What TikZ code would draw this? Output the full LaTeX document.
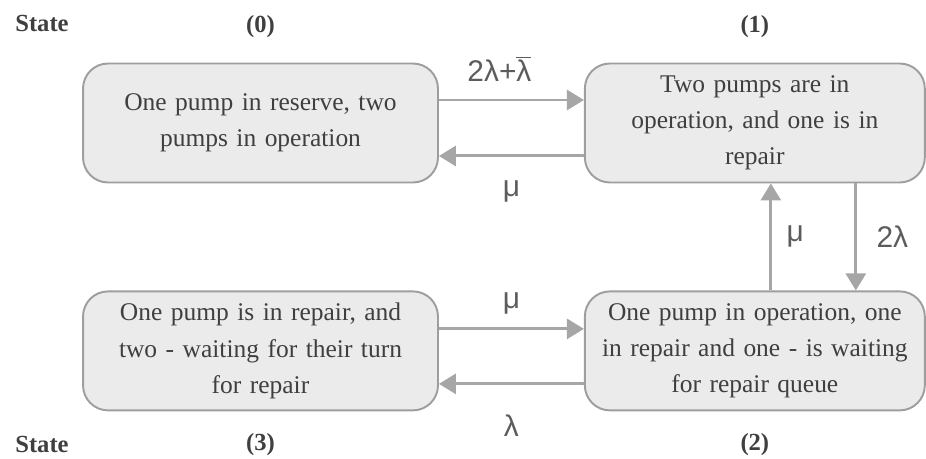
\documentclass[tikz,border=0pt]{standalone}
\usepackage{fontspec}
\setmainfont{Liberation Serif}
\newfontfamily\lblfont{Liberation Sans}
\usetikzlibrary{arrows.meta,positioning}

\definecolor{boxfill}{HTML}{EBEBEB}
\definecolor{boxline}{HTML}{9E9E9E}
\definecolor{arrline}{HTML}{A6A6A6}
\definecolor{txt}{HTML}{3F3F3F}

\begin{document}
\begin{tikzpicture}[
  x=0.02cm, y=-0.02cm,
  statebox/.style={draw=boxline, line width=1.1pt, fill=boxfill, rounded corners=0.5cm,
    align=center, text=txt, font=\fontsize{14.5}{20.5}\selectfont,
    minimum height=2.38cm, inner sep=2pt},
  arr/.style={draw=arrline, line width=1.7pt,
    -{Triangle[length=0.34cm, width=0.4cm]}},
  lbl/.style={font=\lblfont\fontsize{17}{20}\selectfont, text=txt!85, inner sep=1pt},
  num/.style={font=\bfseries\fontsize{14}{16}\selectfont, text=txt, inner sep=1pt}
]
  \useasboundingbox (0,0) rectangle (926,459);

  \node[statebox, minimum width=7.1cm, text width=6.3cm] (s0) at (260.5,123)
    {One pump in reserve, two\\pumps in operation};
  \node[statebox, minimum width=6.8cm, text width=6.2cm, right=2.9cm of s0] (s1)
    {Two pumps are in\\operation, and one is in\\repair};
  \node[statebox, minimum width=7.1cm, text width=6.3cm, below=2.14cm of s0] (s3)
    {One pump is in repair, and\\two - waiting for their turn\\for repair};
  \node[statebox, minimum width=6.8cm, text width=6.2cm, right=2.9cm of s3] (s2)
    {One pump in operation, one\\in repair and one - is waiting\\for repair queue};

  \node[num] (st0) at (42,23) {State};
  \node[num] (st3) at (42,444) {State};
  \node[num, above=0.46cm of s0] (n0) {(0)};
  \node[num, above=0.46cm of s1] (n1) {(1)};
  \node[num, below=0.4cm of s3] (n3) {(3)};
  \node[num, below=0.4cm of s2] (n2) {(2)};

  \draw[arr] ([yshift=0.46cm]s0.east) -- ([yshift=0.46cm]s0.east -| s1.west)
    node[lbl, midway, above=0.3cm, xshift=-0.24cm] {2λ+$\overline{\hbox{λ}}$};
  \draw[arr] ([yshift=-0.66cm]s1.west) -- ([yshift=-0.66cm]s1.west -| s0.east)
    node[lbl, midway, below=0.42cm] {μ};
  \draw[arr] ([xshift=2.02cm]s1.south) -- ([xshift=2.02cm]s1.south |- s2.north)
    node[lbl, midway, right=0.35cm] {2λ};
  \draw[arr] ([xshift=0.32cm]s2.north) -- ([xshift=0.32cm]s2.north |- s1.south)
    node[lbl, midway, right=0.25cm] {μ};
  \draw[arr] ([yshift=0.44cm]s3.east) -- ([yshift=0.44cm]s3.east -| s2.west)
    node[lbl, midway, above=0.22cm] {μ};
  \draw[arr] ([yshift=-0.66cm]s2.west) -- ([yshift=-0.66cm]s2.west -| s3.east)
    node[lbl, midway, below=0.55cm] {λ};
\end{tikzpicture}
\end{document}
